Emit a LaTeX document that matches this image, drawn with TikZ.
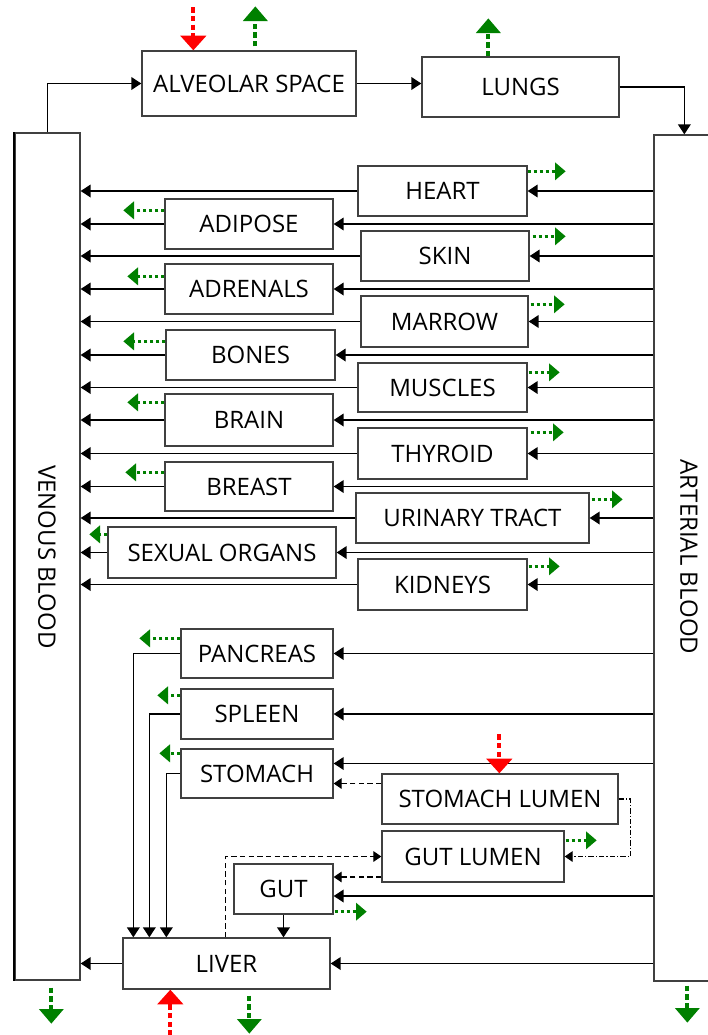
\documentclass[tikz,border=0pt]{standalone}
\usepackage{fontspec}
\setmainfont{Open Sans}
\usetikzlibrary{arrows.meta,fit,calc}
\definecolor{gr}{RGB}{0,128,0}
\begin{document}
\begin{tikzpicture}[x=0.75pt,y=-0.75pt,
  font=\fontsize{18}{20}\selectfont,
  box/.style={draw=black!75, line width=1pt, inner sep=0pt, fill=white},
  arr/.style={line width=1.1pt, -{Triangle[length=7.5pt,width=9.5pt]}},
  dasharr/.style={line width=0.8pt, dash pattern=on 4pt off 2.5pt, -{Triangle[length=6pt,width=8pt]}},
  ddarr/.style={line width=0.8pt, dash pattern=on 4pt off 1.5pt on 1pt off 1.5pt, -{Triangle[length=6pt,width=8pt]}},
  garr/.style={gr, line width=2.4pt, dash pattern=on 2.5pt off 2pt, -{Triangle[length=8pt,width=13pt]}},
  bigg/.style={gr, line width=3pt, dash pattern=on 4pt off 2.5pt, -{Triangle[length=11pt,width=18pt]}},
  bigr/.style={red, line width=3pt, dash pattern=on 4pt off 2.5pt, -{Triangle[length=11pt,width=19pt]}},
  lbl/.style={inner sep=0pt}
]
\useasboundingbox (0,0) rectangle (707,1035);
\newcommand{\organ}[6]{\node[box, fit={(#2,#3) (#4,#5)}] (#1) {};\node[lbl] (#1l) at (#1.center) {#6};}

% blood columns
\organ{ven}{15}{133}{80}{980}{}
\draw[line width=1.4pt] (ven.north west) -- (ven.south west);
\node[lbl, rotate=-90] (venlbl) at (47,557) {VENOUS BLOOD};
\organ{art}{654}{135}{716}{981}{}
\node[lbl, rotate=-90] (artlbl) at (689,557) {ARTERIAL BLOOD};

% top
\organ{alv}{142}{51}{356}{116}{ALVEOLAR SPACE}
\organ{lungs}{422}{57}{619}{117}{LUNGS}
\draw[arr] (ven.north) |- (alv.west);
\draw[arr] (alv.east) -- (alv.east -| lungs.west);
\draw[arr] (lungs.east) -| ($(art.north west)+(31,0)$);
\coordinate (alvin) at ($(alv.north west)+(52,-43)$);
\draw[bigr] (alvin) -- (alvin |- alv.north);
\draw[bigg] ($(alv.north west)+(114,-4)$) -- ++(0,-40);
\draw[bigg] ($(lungs.north west)+(67,0)$) -- ++(0,-38);

% right column organs
\organ{heart}{358}{166}{527}{216}{HEART}
\organ{skin}{361}{231}{529}{281}{SKIN}
\organ{marrow}{361}{296}{528}{347}{MARROW}
\organ{muscles}{358}{363}{527}{412}{MUSCLES}
\organ{thyroid}{358}{428}{527}{479}{THYROID}
\organ{urinary}{356}{493}{589}{543}{URINARY TRACT}
\organ{kidneys}{358}{559}{527}{610}{KIDNEYS}
% left column organs
\organ{adipose}{165}{199}{333}{249}{ADIPOSE}
\organ{adrenals}{165}{264}{333}{314}{ADRENALS}
\organ{bones}{166}{330}{335}{380}{BONES}
\organ{brain}{165}{394}{333}{446}{BRAIN}
\organ{breast}{165}{462}{333}{511}{BREAST}
\organ{sexual}{108}{527}{336}{578}{SEXUAL ORGANS}

\foreach \o in {heart,skin,marrow,muscles,thyroid,urinary,kidneys,adipose,adrenals,bones,brain,breast,sexual}{
  \draw[arr] (\o.east -| art.west) -- (\o.east);
  \draw[arr] (\o.west) -- (\o.west -| ven.east);
}
% green outgoing (right)
\draw[garr] ($(heart.north east)+(0,6)$) -- ++(38,0);
\draw[garr] ($(skin.north east)+(3,6)$) -- ++(33,0);
\draw[garr] ($(marrow.north east)+(2,9)$) -- ++(34,0);
\draw[garr] ($(muscles.north east)+(1,10)$) -- ++(31,0);
\draw[garr] ($(thyroid.north east)+(3,5)$) -- ++(33,0);
\draw[garr] ($(urinary.north east)+(2,7)$) -- ++(31,0);
\draw[garr] ($(kidneys.north east)+(1,8)$) -- ++(31,0);
% green outgoing (left)
\draw[garr] ($(adipose.north west)+(0,12)$) -- ++(-41,0);
\draw[garr] ($(adrenals.north west)+(0,13)$) -- ++(-37,0);
\draw[garr] ($(bones.north west)+(0,12)$) -- ++(-42,0);
\draw[garr] ($(brain.north west)+(0,9)$) -- ++(-37,0);
\draw[garr] ($(breast.north west)+(0,11)$) -- ++(-39,0);
\draw[garr] ($(sexual.north west)+(0,8)$) -- ++(-18,0);

% splanchnic
\organ{pancreas}{181}{629}{333}{678}{PANCREAS}
\organ{spleen}{181}{689}{333}{739}{SPLEEN}
\organ{stomach}{181}{749}{333}{798}{STOMACH}
\organ{stlumen}{382}{774}{618}{824}{STOMACH LUMEN}
\organ{gutlumen}{382}{831}{564}{882}{GUT LUMEN}
\organ{gut}{234}{864}{333}{914}{GUT}
\organ{liver}{123}{938}{330}{989}{LIVER}

\draw[arr] (pancreas.east -| art.west) -- (pancreas.east);
\draw[arr] (spleen.east -| art.west) -- (spleen.east);
\coordinate (stin) at ($(stomach.east)+(0,-10)$);
\draw[arr] (stin -| art.west) -- (stin);
\coordinate (gutin) at ($(gut.east)+(0,7)$);
\draw[arr] (gutin -| art.west) -- (gutin);
\draw[arr] (liver.east -| art.west) -- (liver.east);
\draw[arr] (liver.west) -- (liver.west -| ven.east);

\draw[arr] (pancreas.west) -| ($(liver.north west)+(11,0)$);
\draw[arr] (spleen.west) -| ($(liver.north west)+(27,0)$);
\draw[arr] (stomach.west) -| ($(liver.north west)+(44,0)$);
\draw[arr] (gut.south) -- (gut.south |- liver.north);

\coordinate (stl) at ($(stomach.east)+(0,10)$);
\draw[dasharr] (stl -| stlumen.west) -- (stl);
\draw[ddarr] (stlumen.east) -- ++(12,0) |- (gutlumen.east);
\coordinate (gl) at ($(gut.east)+(0,-12)$);
\draw[dasharr] (gl -| gutlumen.west) -- (gl);
\draw[dasharr] ($(liver.north west)+(103,0)$) |- (gutlumen.west);

\draw[garr] ($(pancreas.north west)+(0,10)$) -- ++(-41,0);
\draw[garr] ($(spleen.north west)+(0,7)$) -- ++(-23,0);
\draw[garr] ($(stomach.north west)+(0,5)$) -- ++(-21,0);
\draw[garr] ($(gutlumen.north east)+(1,10)$) -- ++(31,0);
\draw[garr] ($(gut.south east)+(1,-3)$) -- ++(32,0);
\coordinate (slin) at ($(stlumen.north west)+(118,-39)$);
\draw[bigr] (slin) -- (slin |- stlumen.north);

% bottom
\draw[bigg] ($(ven.south west)+(37,7)$) -- ++(0,36);
\coordinate (livin) at ($(liver.south west)+(48,46)$);
\draw[bigr] (livin) -- (livin |- liver.south);
\draw[bigg] ($(liver.south west)+(127,6)$) -- ++(0,38);
\draw[bigg] ($(art.south west)+(34,4)$) -- ++(0,37);
\end{tikzpicture}
\end{document}
